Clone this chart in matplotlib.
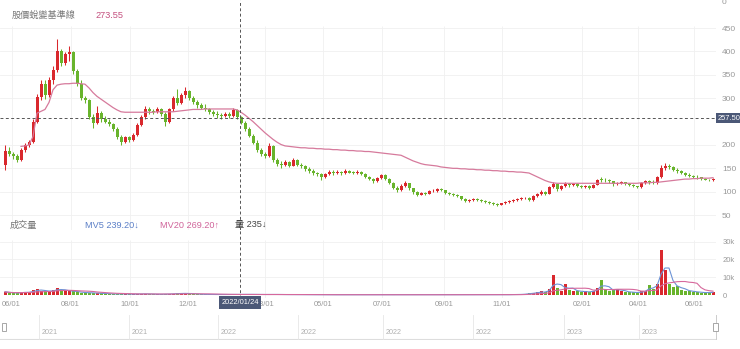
import numpy as np
import pandas as pd
import matplotlib
matplotlib.use('Agg')
import matplotlib.pyplot as plt
from matplotlib.transforms import blended_transform_factory
from matplotlib.patches import Rectangle

plt.rcParams['font.family'] = ['Liberation Sans', 'Noto Sans CJK TC', 'DejaVu Sans']

# ---------------- data ----------------
open_ = [158,188,180,176,168,190,200,206,250,302,
         330,306,340,360,402,375,394,398,358,330,
         300,296,260,248,268,255,250,244,234,216,
         206,216,211,222,242,260,276,272,270,276,
         267,250,276,300,290,306,316,300,292,285,
         280,277,271,267,264,261,267,262,274,260,
         248,234,220,205,190,181,177,198,168,160,
         157,164,156,167,158,154,149,144,139,137,
         131,138,143,139,143,139,145,141,140,143,
         137,131,127,123,129,135,128,118,109,104,
         113,118,107,99,94,97,96,101,102,105,
         103,97,96,93,90,85,80,83,85,82,
         80,78,76,74,72,75,78,80,82,85,
         86,87,82,91,95,100,96,110,116,105,
         112,117,114,117,112,110,113,108,115,128,
         125,124,122,116,119,120,117,114,112,110,
         118,122,120,118,131,150,156,152,147,145,
         140,136,134,132,131,128,126,124]
high = [200,195,186,180,194,204,210,255,310,338,
        340,345,368,426,405,398,411,400,362,338,
        305,298,266,283,272,262,256,248,238,222,
        220,220,226,246,264,283,282,278,282,280,
        270,280,304,319,312,325,318,304,296,290,
        287,280,274,272,268,270,270,280,276,262,
        252,238,224,210,194,186,205,200,172,165,
        168,166,172,169,162,157,152,148,143,140,
        141,146,146,146,145,148,147,144,146,145,
        139,133,129,132,138,137,130,120,112,116,
        122,119,109,101,99,100,103,105,107,108,
        104,99,98,95,91,87,85,87,86,84,
        82,80,78,75,76,80,82,84,87,89,
        89,88,93,97,103,102,113,121,117,114,
        120,119,119,118,114,115,114,117,127,132,
        130,127,123,121,123,121,119,116,113,120,
        126,124,124,134,158,162,160,155,150,146,
        142,139,136,135,132,130,128,130]
low = [147,176,170,164,166,186,196,204,246,296,
       298,302,330,356,368,370,380,352,326,296,
       290,255,237,245,250,246,240,230,212,200,
       204,207,209,220,240,256,266,266,268,262,
       240,248,272,286,288,300,296,288,280,276,
       272,266,262,258,256,259,258,260,256,244,
       230,216,202,186,176,173,175,164,154,150,
       154,152,154,154,150,145,140,136,133,126,
       129,136,136,137,136,138,139,137,138,135,
       129,124,119,121,127,126,116,106,100,102,
       111,104,96,90,92,94,95,99,100,101,
       95,93,91,88,83,78,79,81,80,78,
       76,74,72,70,71,74,76,79,81,83,
       84,80,81,89,93,94,95,108,102,103,
       110,111,112,110,108,109,105,107,114,121,
       121,119,113,115,117,114,112,110,107,109,
       116,117,116,117,129,147,148,144,141,137,
       133,131,129,128,126,124,122,123]
close = [188,180,176,168,190,200,206,250,302,330,
         306,340,360,402,375,394,398,358,330,300,
         296,260,248,268,255,250,244,234,216,206,
         216,211,222,242,260,276,272,270,276,267,
         250,276,300,290,306,316,300,292,285,280,
         277,271,267,264,261,267,262,274,260,248,
         234,220,205,190,181,177,198,168,160,157,
         164,156,167,158,154,149,144,139,137,131,
         138,143,139,143,139,145,141,140,143,137,
         131,127,123,129,135,128,118,109,104,113,
         118,107,99,94,97,96,101,102,105,103,
         97,96,93,90,85,80,83,85,82,80,
         78,76,74,72,75,78,80,82,85,86,
         87,82,91,95,100,96,110,116,105,112,
         117,114,117,112,110,113,108,115,124,125,
         124,122,116,119,120,117,114,112,110,118,
         122,120,118,131,150,156,152,147,145,140,
         136,134,132,131,128,126,124,128]
base_line = [np.nan,np.nan,np.nan,np.nan,197,198,200,218,268,272,
             276,291,318,328,330,331,331,332,332,331,
             330,322,312,304,298,292,286,280,275,271,
             270,270,270,270,270,270,270,270,271,271,
             271,271,271,272,273,274,275,276,276,276,
             277,277,277,277,277,277,277,277,275,270,
             264,257,250,242,234,226,219,212,206,201,
             198,197,196,195,194,194,193,193,192,192,
             191,191,190,190,189,189,188,188,187,187,
             186,186,185,184,183,182,181,180,179,178,
             174,170,166,163,160,158,157,156,155,153,
             152,151,150,150,149,149,148,148,147,147,
             146,146,145,145,144,144,143,143,142,142,
             141,140,136,132,128,124,121,119,118,118,
             118,118,118,118,118,118,118,118,118,118,
             118,118,118,118,118,118,118,118,118,119,
             119,119,120,120,121,122,123,124,125,126,
             127,127,128,128,129,129,129,130]
volume = [1800,1200,1000,1300,1500,1600,1400,2800,3200,2400,
          2000,2200,2600,3800,2800,2200,2400,2000,1600,1400,
          1200,1300,1100,1000,900,800,600,500,600,700,
          500,400,500,600,600,700,500,400,400,400,
          500,600,800,900,800,1000,800,600,400,350,
          300,300,300,250,250,300,300,400,300,350,
          400,350,300,300,250,300,350,300,250,250,
          250,200,250,200,200,200,200,200,150,150,
          150,150,150,150,150,150,150,150,150,150,
          150,150,150,150,150,150,150,200,200,150,
          150,150,150,150,150,150,150,150,150,150,
          150,150,150,150,150,150,150,150,150,150,
          150,150,150,150,150,200,200,250,300,400,
          600,1000,1200,1500,2000,1500,3500,11000,4000,2500,
          6000,3000,2500,2000,1800,2000,1500,2500,4000,8500,
          3000,2500,3000,3500,2000,1800,1500,1500,1200,2000,
          2500,5800,3500,6000,25500,14000,6000,4500,5000,3000,
          2500,2000,1800,1500,1400,1200,1500,1800]

tick_pos = [1.67, 16.4, 31.25, 45.75, 65.0, 79.5, 94.25, 109.75, 124.25, 144.25, 158.25, 172.25]
tick_labels = ['06/01', '08/01', '10/01', '12/01', '03/01', '05/01', '07/01',
               '09/01', '11/01', '02/01', '04/01', '06/01']
price_ticks = [50, 100, 150, 200, 300, 350, 400, 450]
vol_ticks = [0, 10000, 20000, 30000]
vol_tick_labels = ['0', '10k', '20k', '30k']
quarter_pos = [8.5, 31.0, 53.25, 73.25, 94.5, 117.0, 139.75, 158.5]
quarter_labels = ['2021', '2021', '2022', '2022', '2022', '2022', '2023', '2023']

cross_idx = 58.75
cross_price = 257.50
cross_date = '2022/01/24'
base_name = '股價蛻變基準線'
base_value = '273.55'
vol_title = '成交量'
mv5_text = 'MV5 239.20↓'
mv20_text = 'MV20 269.20↑'
qty_text = '量 235↓'

# ---------------- style ----------------
W, H = 740, 349
RED = '#d9282d'
GREEN = '#68b42c'
GRID = '#f0f0f0'
TXT = '#999999'

fig = plt.figure(figsize=(W / 100, H / 100), dpi=100)

def rect(x0, y0, x1, y1):
    return [x0 / W, 1 - y1 / H, (x1 - x0) / W, (y1 - y0) / H]

ax = fig.add_axes(rect(0, 0, 716, 230))
axv = fig.add_axes(rect(0, 230, 716, 298), sharex=ax)
axn = fig.add_axes(rect(0, 312, 716, 340), sharex=ax)

o = np.array(open_, float); h = np.array(high, float)
l = np.array(low, float); c = np.array(close, float)
x = np.arange(len(c))
cols = np.where(c >= o, RED, GREEN)

# price panel
ax.vlines(x, l, h, colors=cols, lw=0.75, zorder=3)
ax.bar(x, np.maximum(np.abs(c - o), 1.2), bottom=np.minimum(o, c), width=0.75,
       color=cols, linewidth=0, zorder=4)
ax.plot(x, base_line, color='#d67a9c', lw=0.9, zorder=5)

ax.set_xlim(-1.25, 177.75)
ax.set_ylim(18.1, 510.1)
ax.set_yticks(price_ticks)
ax.yaxis.tick_right()
ax.tick_params(axis='y', length=0, labelsize=6.0, colors=TXT, pad=4.3)
ax.tick_params(axis='x', length=0, labelbottom=False)
for v in price_ticks:
    ax.axhline(v, color=GRID, lw=0.6, zorder=0)
ax.vlines(tick_pos, 18.1, 455, colors=GRID, lw=0.6, zorder=0)
for s in ax.spines.values():
    s.set_visible(False)

ax.axhline(cross_price, color='#555555', lw=0.7, ls=(0, (3, 2.5)), zorder=6)
ax.axvline(cross_idx, color='#555555', lw=0.7, ls=(0, (3, 2.5)), zorder=6)
tr = blended_transform_factory(ax.transAxes, ax.transData)
ax.text(1.002, cross_price, f'{cross_price:.2f}', transform=tr, ha='left', va='center',
        fontsize=5.4, color='white', clip_on=False, zorder=10,
        bbox=dict(boxstyle='square,pad=0.22', fc='#4b5877', ec='none'))

# volume panel
axv.bar(x, volume, width=0.75, color=cols, linewidth=0, zorder=3)
vs = pd.Series(volume, dtype=float)
axv.plot(x, vs.rolling(3, min_periods=1).mean(), color='#6d93d6', lw=0.8, zorder=4)
axv.plot(x, vs.rolling(10, min_periods=1).mean(), color='#d6689c', lw=0.8, zorder=4)
axv.set_ylim(-1685, 36517)
axv.set_yticks(vol_ticks)
axv.set_yticklabels(vol_tick_labels)
axv.yaxis.tick_right()
axv.tick_params(axis='y', length=0, labelsize=5.5, colors=TXT, pad=5)
axv.set_xticks(tick_pos)
axv.set_xticklabels(tick_labels)
axv.tick_params(axis='x', length=0, labelsize=5.4, colors=TXT, pad=2.5)
for v in vol_ticks[1:]:
    axv.axhline(v, color=GRID, lw=0.6, zorder=0)
axv.vlines(tick_pos, -1685, 31000, colors=GRID, lw=0.6, zorder=0)
for s in axv.spines.values():
    s.set_visible(False)
axv.axvline(cross_idx, color='#555555', lw=0.7, ls=(0, (3, 2.5)), zorder=6)
trv = blended_transform_factory(axv.transData, axv.transAxes)
axv.text(cross_idx, -0.066, cross_date, transform=trv, ha='center', va='center',
         fontsize=5.4, color='white', clip_on=False, zorder=10,
         bbox=dict(boxstyle='square,pad=0.35', fc='#4b5877', ec='none'))

# navigator
axn.set_ylim(0, 1)
axn.axis('off')
axn.axhline(0.036, color='#dddddd', lw=0.8)
trn = blended_transform_factory(axn.transData, axn.transAxes)
for qp, ql in zip(quarter_pos, quarter_labels):
    axn.plot([qp, qp], [0.036, 0.89], color='#e6e6e6', lw=0.6, transform=trn)
    axn.text(qp + 0.75, 0.25, ql, transform=trn, ha='left', va='center',
             fontsize=5.2, color='#b0b0b0')
axn.plot([177.75, 177.75], [0.036, 0.89], color='#cccccc', lw=0.7, transform=trn, clip_on=False)
for hx in (-0.83, 177.0):
    axn.add_patch(Rectangle((hx, 0.33), 1.2, 0.29, transform=trn, fc='white',
                            ec='#999999', lw=0.6, clip_on=False, zorder=5))

# header texts
def ftext(px, py, s, **kw):
    fig.text(px / W, 1 - py / H, s, va='center', ha='left', **kw)

ftext(11.7, 15, base_name, fontsize=6.6, color='#777777')
ftext(95, 15, base_value, fontsize=6.6, color='#c4507f')
ftext(10, 225, vol_title, fontsize=6.6, color='#777777')
ftext(85, 225, mv5_text, fontsize=6.6, color='#5b7fc7')
ftext(160, 225, mv20_text, fontsize=6.6, color='#d0649a')
ftext(235, 225, qty_text, fontsize=6.6, color='#444444')
ftext(722, 2, '0', fontsize=6.0, color=TXT)

fig.savefig('out.png', dpi=100)
